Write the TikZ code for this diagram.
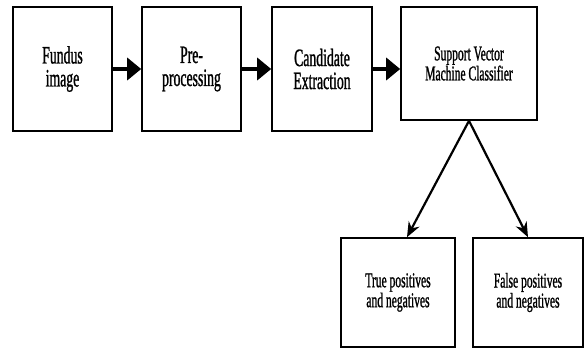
\documentclass[tikz,border=0pt]{standalone}
\usepackage{fontspec}
\setmainfont{Liberation Serif}
\newfontfamily\narrowserif[FakeStretch=0.55, FakeBold=1]{Liberation Serif}
\usetikzlibrary{arrows.meta}

\begin{document}
\begin{tikzpicture}[x=1pt, y=-1pt,
    stagebox/.style={draw, line width=1.6pt, rectangle, align=center, inner sep=0pt},
    bigtext/.style={font=\narrowserif\fontsize{25}{23}\selectfont},
    smalltext/.style={font=\narrowserif\fontsize{21}{20}\selectfont},
    flow/.style={line width=4pt, -{Triangle[length=14pt, width=22pt]}},
    split/.style={line width=2.2pt, -{Stealth[length=15pt, width=12pt]}}]
        \useasboundingbox (0,0) rectangle (584,349);

        % Pipeline
        \node[stagebox, bigtext, minimum width=99, minimum height=124] (fundus) at (62.5, 69) {Fundus\\image};
        \node[stagebox, bigtext, minimum width=99, minimum height=124] (preproc) at (191.5, 69) {Pre-\\processing};
        \node[stagebox, bigtext, minimum width=100, minimum height=124] (cand) at (322, 69) {Candidate\\Extraction};
        \node[stagebox, smalltext, minimum width=136, minimum height=113] (svm) at (469, 63.5) {Support Vector\\Machine Classifier};

        \draw[flow] (fundus) -- (preproc);
        \draw[flow] (preproc) -- (cand);
        \draw[flow] (cand.east) -- (cand.east -| svm.west);

        % Outcomes
        \node[stagebox, smalltext, minimum width=114, minimum height=109] (truepn) at (398, 292.5) {True positives\\and negatives};
        \node[stagebox, smalltext, minimum width=110, minimum height=109] (falsepn) at (528, 292.5) {False positives\\and negatives};

        \draw[split] (svm.south) -- ([xshift=9pt]truepn.north);
        \draw[split] (svm.south) -- (falsepn.north);
    \end{tikzpicture}
\end{document}
